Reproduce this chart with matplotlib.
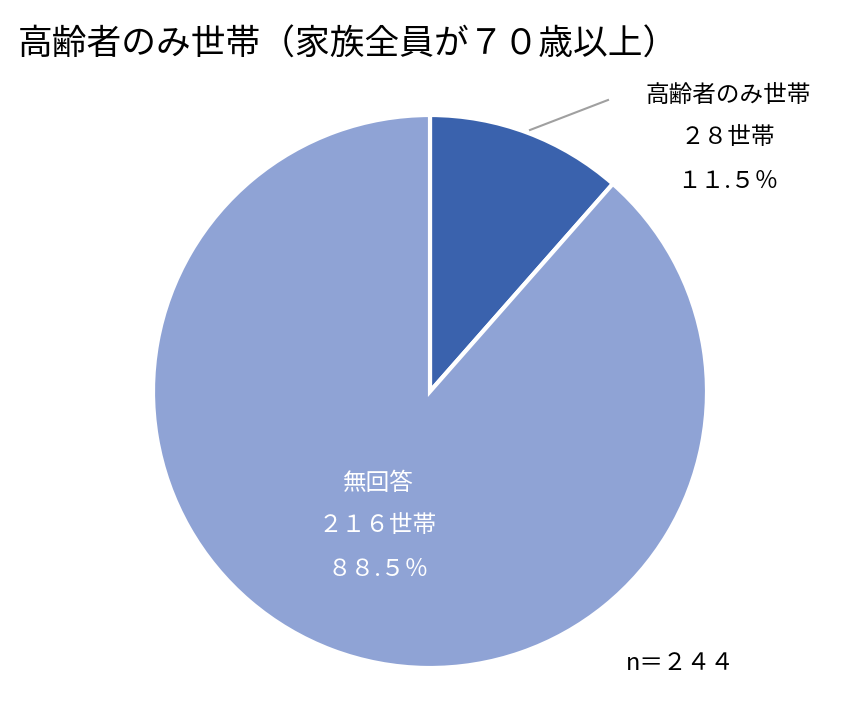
import matplotlib.pyplot as plt

plt.rcParams['font.family'] = ['Noto Sans CJK JP', 'DejaVu Sans']

# Data
categories = ["高齢者のみ世帯", "無回答"]
counts = [28, 216]
shares = ["１１.５％", "８８.５％"]
count_labels = ["２８世帯", "２１６世帯"]
colors = ["#3A62AD", "#8FA3D5"]
title = "高齢者のみ世帯（家族全員が７０歳以上）"
n_label = "n＝２４４"


def px(x, y):
    return x / 863, 1 - y / 720


def main():
    fig = plt.figure(figsize=(8.63, 7.2), dpi=100)
    ax = fig.add_axes([153 / 863, 52 / 720, 554 / 863, 553 / 720])
    ax.pie(counts, colors=colors, startangle=90, counterclock=False,
           wedgeprops=dict(edgecolor="white", linewidth=3))
    ax.set_aspect("auto")
    ax.set_xlim(-1, 1)
    ax.set_ylim(-1, 1)

    fig.text(*px(18, 45), title, fontsize=25, va="center", ha="left")

    # label for the small slice, outside with a leader line
    fig.lines.append(plt.Line2D([530 / 863, 608 / 863], [1 - 130 / 720, 1 - 100 / 720],
                                transform=fig.transFigure, color="#A0A0A0", lw=1.5))
    for i, t in enumerate([categories[0], count_labels[0], shares[0]]):
        fig.text(*px(728, 95 + 43 * i), t, fontsize=17, ha="center", va="center")

    # label for the large slice, inside
    for i, t in enumerate([categories[1], count_labels[1], shares[1]]):
        fig.text(*px(378, 483 + 43 * i), t, fontsize=17, ha="center", va="center",
                 color="white")

    fig.text(*px(680, 663), n_label, fontsize=17, ha="center", va="center")
    fig.savefig("out.png", dpi=100)


if __name__ == "__main__":
    main()
